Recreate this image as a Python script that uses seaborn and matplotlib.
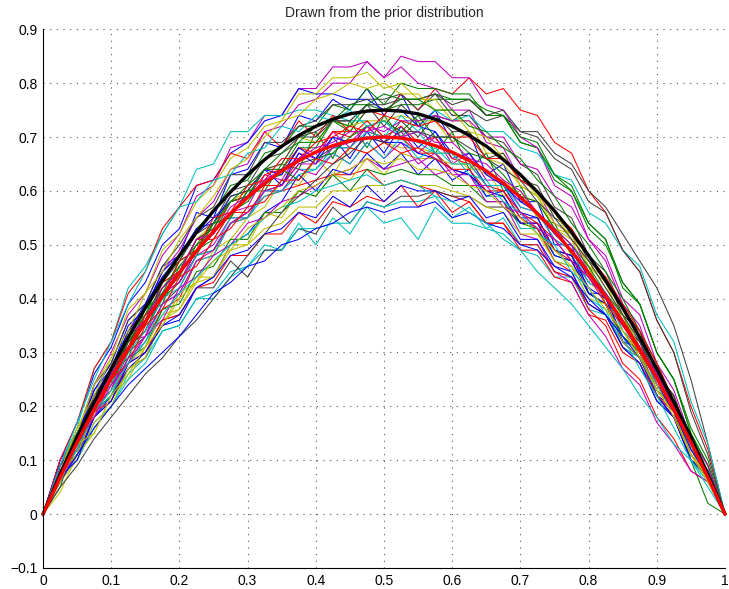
import numpy as np
import pandas as pd
import matplotlib
matplotlib.use("Agg")
import matplotlib.pyplot as plt
import seaborn as sns

# Prior sample functions on a 41-point grid over [0, 1], values in hundredths
samples = [
    [0,10,15,23,28,36,39,46,48,56,55,63,64,69,68,74,73,77,75,79,74,78,72,75,69,71,63,65,58,58,50,50,41,41,32,31,22,20,10,8,0],
    [0,5,14,19,26,29,37,39,46,48,54,55,60,60,65,64,71,66,73,68,74,70,73,67,71,64,67,60,61,55,54,48,46,39,37,30,27,19,15,7,0],
    [0,8,11,19,22,28,32,38,40,47,48,54,55,61,61,66,67,71,71,75,74,78,75,79,78,81,78,79,75,74,69,67,60,56,49,45,36,30,20,12,0],
    [0,7,10,16,20,26,29,34,35,40,41,45,46,49,49,54,50,55,52,57,54,55,51,57,54,54,53,52,49,48,44,44,38,37,32,29,23,20,12,8,0],
    [0,9,14,24,30,37,41,48,52,59,61,68,69,74,74,79,79,83,83,84,81,83,80,79,75,75,69,68,62,60,54,52,45,41,34,30,22,18,10,7,0],
    [0,4,11,15,22,25,31,35,41,43,49,51,55,57,62,61,66,63,68,67,69,68,68,67,67,64,64,59,60,55,53,48,46,39,36,29,26,19,15,6,0],
    [0,8,12,19,23,30,33,39,42,48,49,54,56,60,61,65,66,68,68,72,69,73,70,74,73,75,73,74,71,71,67,65,60,57,52,47,42,35,25,13,0],
    [0,10,17,26,31,39,43,50,53,61,62,67,69,73,74,79,78,78,77,77,75,75,72,71,67,66,61,61,56,55,49,48,41,39,32,29,22,18,11,7,0],
    [0,7,11,20,24,31,34,40,43,49,51,56,58,62,63,68,68,73,71,75,75,76,76,77,77,77,74,74,69,68,63,60,54,51,42,39,30,25,15,9,0],
    [0,8,13,21,25,32,36,41,45,51,51,56,56,59,60,61,62,63,63,64,61,62,61,60,59,58,54,54,49,49,44,43,37,36,30,28,21,18,11,7,0],
    [0,9,16,27,32,42,46,52,57,64,65,71,71,74,74,75,75,74,73,73,70,70,69,67,64,63,59,59,53,53,47,46,40,38,31,28,21,18,10,7,0],
    [0,7,12,20,23,32,33,41,43,49,52,56,57,63,62,67,66,71,68,72,69,71,67,70,65,67,62,62,57,56,51,49,44,41,35,32,24,20,12,8,0],
    [0,8,13,21,25,33,35,43,45,51,54,58,60,64,65,70,69,73,72,73,73,74,73,73,69,71,66,65,61,59,54,52,46,43,36,33,25,21,13,8,0],
    [0,7,11,18,21,27,29,36,37,42,42,47,44,49,49,53,52,57,54,58,57,59,59,60,59,59,57,57,54,54,49,48,43,41,35,32,25,21,13,8,0],
    [0,7,11,18,22,27,30,35,36,42,44,50,52,56,58,63,60,64,63,67,64,67,63,66,62,64,59,60,55,55,49,48,42,40,33,30,23,20,12,8,0],
    [0,8,13,22,26,34,37,44,47,53,56,61,62,67,68,72,72,76,75,79,76,80,79,79,78,78,74,74,69,68,62,60,53,50,43,39,30,25,16,10,0],
    [0,10,17,27,32,41,45,53,57,61,62,67,66,71,68,73,70,74,71,71,70,70,67,67,64,63,60,59,54,54,49,47,41,39,32,29,22,18,10,7,0],
    [0,7,10,17,20,25,28,34,35,40,40,44,46,50,49,53,53,54,54,58,57,58,58,59,55,57,53,55,50,50,45,44,39,37,31,29,22,19,11,8,0],
    [0,8,13,22,26,34,38,45,49,55,58,64,65,71,72,76,77,80,80,84,81,85,84,84,81,81,76,75,70,68,61,59,51,47,39,35,26,22,13,8,0],
    [0,6,10,17,20,27,29,36,38,43,44,50,50,56,55,60,59,63,62,66,63,67,66,66,65,65,63,62,59,58,53,52,46,44,37,34,26,22,14,9,0],
    [0,9,15,24,28,36,39,46,50,55,57,63,63,69,69,72,73,76,76,77,77,78,75,78,74,74,70,69,65,63,57,55,48,45,38,34,26,22,13,8,0],
    [0,9,15,22,27,34,39,44,48,52,55,58,59,64,61,67,65,70,66,71,67,72,68,71,66,67,63,61,58,56,52,49,44,40,35,31,24,20,12,8,0],
    [0,7,12,19,22,29,31,38,39,45,46,51,51,56,56,60,59,63,60,64,63,64,63,63,61,61,58,58,54,53,48,47,41,39,33,30,23,19,10,2,0],
    [0,8,13,21,25,33,36,43,45,51,53,58,59,63,64,68,67,71,70,73,70,72,69,70,66,65,61,60,55,53,47,45,38,35,28,25,18,14,8,6,0],
    [0,7,11,19,22,29,32,39,41,47,48,54,55,59,60,64,64,68,68,71,70,74,71,75,73,74,71,71,68,67,63,62,56,54,49,46,37,32,21,13,0],
    [0,9,12,20,23,31,34,41,43,48,50,55,55,60,60,64,63,67,65,69,66,69,65,67,63,63,58,58,52,51,45,43,37,33,27,24,17,13,8,6,0],
    [0,9,15,24,29,38,41,49,52,58,61,66,68,72,73,78,78,81,81,82,79,80,77,77,73,73,67,67,61,59,53,51,44,41,34,30,23,19,11,7,0],
    [0,8,14,22,26,32,36,43,47,52,54,60,61,66,67,70,71,73,73,76,72,76,73,74,71,71,66,67,62,61,55,53,47,44,37,34,26,22,13,8,0],
    [0,9,14,23,27,35,38,45,48,53,54,59,60,64,63,68,66,70,69,70,69,69,67,66,64,63,60,59,54,54,48,47,41,39,32,29,22,18,10,7,0],
    [0,7,12,20,24,31,34,41,44,50,52,58,59,64,64,69,69,73,72,76,75,77,77,78,77,77,75,74,70,69,63,61,54,51,43,39,30,25,15,9,0],
    [0,8,12,19,21,28,30,36,37,42,43,48,48,52,52,56,54,58,57,59,58,61,57,60,56,58,54,54,50,50,45,44,39,37,31,28,22,19,11,7,0],
    [0,8,12,20,24,30,34,40,42,48,49,55,55,60,60,63,64,67,65,69,66,70,66,68,65,65,61,61,57,56,51,49,43,41,34,31,24,20,12,8,0],
    [0,7,11,19,23,29,33,39,41,47,49,54,56,60,61,65,65,68,69,72,71,73,73,74,73,73,70,70,65,64,59,57,51,48,40,37,28,23,14,9,0],
    [0,8,11,19,23,28,31,37,38,44,44,49,50,53,54,57,57,60,60,61,61,62,61,61,60,59,57,56,52,52,47,46,40,39,32,29,23,19,11,7,0],
    [0,8,13,21,25,32,35,42,45,51,53,59,60,64,65,70,70,73,73,76,76,77,77,78,76,77,74,75,71,70,66,64,58,56,49,45,36,30,19,11,0],
    [0,7,10,18,21,28,30,35,37,42,44,48,49,52,53,56,55,59,57,61,58,61,60,60,58,59,55,56,51,51,46,45,39,37,31,28,21,18,10,7,0],
    [0,8,15,20,27,31,38,41,47,49,54,55,60,61,64,62,66,67,70,72,73,71,74,70,70,67,66,63,59,58,53,50,46,41,37,31,26,19,13,7,0],
    [0,6,14,18,25,28,35,38,44,46,51,53,57,58,62,62,66,65,68,67,69,67,68,66,64,64,60,60,56,54,51,47,44,39,35,30,25,19,13,7,0],
    [0,9,17,25,32,39,45,52,57,58,62,63,67,68,72,71,74,73,75,72,73,70,71,67,67,63,62,58,56,52,50,45,42,37,33,27,22,16,10,6,0],
    [0,7,13,18,24,28,33,36,42,44,48,50,54,55,58,59,61,63,64,66,64,65,66,63,64,61,61,57,56,53,51,47,44,40,36,31,26,20,13,7,0],
    [0,8,16,22,29,34,41,45,51,55,59,64,66,70,73,74,77,78,80,79,80,78,78,75,75,71,70,66,63,59,56,51,47,42,37,31,25,19,12,6,0],
    [0,5,9,14,18,22,26,29,33,36,40,44,48,52,56,59,62,65,67,70,69,71,71,70,70,68,66,64,62,58,55,51,47,42,37,32,26,20,13,7,0],
    [0,6,11,16,20,24,27,30,33,37,41,43,46,47,50,51,53,54,56,57,56,57,57,58,55,56,54,53,50,49,46,44,40,37,33,29,24,19,12,7,0],
    [0,7,14,21,26,32,37,42,46,50,54,58,61,64,67,69,72,73,76,76,78,77,77,75,75,72,71,68,66,62,59,54,50,45,40,34,28,21,14,7,0],
    [0,8,14,21,27,31,37,40,47,49,55,56,61,62,66,66,69,70,72,71,74,73,72,73,70,70,66,66,62,60,56,53,48,44,39,34,28,21,14,7,0],
    [0,7,12,19,23,28,32,37,41,44,47,50,52,55,57,58,60,61,62,63,61,62,61,59,58,56,54,51,49,45,42,39,35,31,27,22,18,13,10,5,0],
    [0,8,14,20,26,33,36,42,45,51,52,57,59,62,64,66,68,69,71,71,72,70,71,69,69,66,65,62,60,56,53,50,45,41,36,31,26,20,13,7,0],
    [0,6,13,15,22,26,31,35,40,43,47,49,53,55,57,60,61,63,64,66,65,66,64,64,63,61,60,57,55,52,49,46,42,38,34,29,24,18,11,6,0],
]

# Prior mean (black) and mean of the drawn samples (red), hundredths
prior_mean = [0,7.3,14.3,20.8,27,32.8,38.3,43.3,48,52.3,56.3,59.8,63,65.8,68.3,70.3,72,73.3,74.3,74.8,75,
              74.8,74.3,73.3,72,70.3,68.3,65.8,63,59.8,56.3,52.3,48,43.3,38.3,32.8,27,20.8,14.3,7.3,0]
sample_mean = [0,6.8,13.3,19.4,25.2,30.6,35.7,40.4,44.8,48.8,52.5,55.8,58.8,61.4,63.7,65.6,67.2,68.4,69.3,69.8,70,
               69.8,69.3,68.4,67.2,65.6,63.7,61.4,58.8,55.8,52.5,48.8,44.8,40.4,35.7,30.6,25.2,19.4,13.3,6.8,0]

x_ticks = [0, 0.1, 0.2, 0.3, 0.4, 0.5, 0.6, 0.7, 0.8, 0.9, 1.0]
x_labels = ["0", "0.1", "0.2", "0.3", "0.4", "0.5", "0.6", "0.7", "0.8", "0.9", "1"]
y_ticks = [-0.1, 0, 0.1, 0.2, 0.3, 0.4, 0.5, 0.6, 0.7, 0.8, 0.9]
y_labels = ["\u22120.1", "0", "0.1", "0.2", "0.3", "0.4", "0.5", "0.6", "0.7", "0.8", "0.9"]

line_colors = [(0, 0, 1), (0, 0.5, 0), (1, 0, 0), (0, 0.75, 0.75),
               (0.75, 0, 0.75), (0.75, 0.75, 0), (0.25, 0.25, 0.25)]

sns.set_style("white")
plt.rcParams["font.family"] = ["Liberation Sans", "DejaVu Sans"]
plt.rcParams["axes.unicode_minus"] = True

rows = []
for k, s in enumerate(samples):
    xs = np.linspace(0, 1, len(s))
    for xv, yv in zip(xs, s):
        rows.append({"x": xv, "y": yv / 100.0, "curve": k})
df = pd.DataFrame(rows)
palette = [line_colors[k % len(line_colors)] for k in range(len(samples))]

fig = plt.figure(figsize=(7.29, 5.89), dpi=100)
ax = fig.add_axes([0.059, 0.0357, 0.9355, 0.9146])

sns.lineplot(data=df, x="x", y="y", hue="curve", palette=palette, units="curve",
             estimator=None, legend=False, linewidth=0.75, ax=ax, clip_on=False)

xm = np.linspace(0, 1, len(prior_mean))
sns.lineplot(x=xm, y=np.array(prior_mean) / 100.0, color="black", linewidth=2.4, ax=ax,
             clip_on=False)
xr = np.linspace(0, 1, len(sample_mean))
sns.lineplot(x=xr, y=np.array(sample_mean) / 100.0, color="red", linewidth=2.4, ax=ax,
             clip_on=False)

ax.set_xlim(0, 1)
ax.set_ylim(-0.1, 0.9)
ax.set_xticks(x_ticks)
ax.set_xticklabels(x_labels)
ax.set_yticks(y_ticks)
ax.set_yticklabels(y_labels)
ax.set_xlabel("")
ax.set_ylabel("")
ax.tick_params(direction="in", length=5, width=0.8, labelsize=10, colors="black", pad=4)
ax.grid(True, linestyle=(0, (1, 5)), color="#555555", linewidth=0.8)
ax.set_axisbelow(True)
for side in ["top", "right"]:
    ax.spines[side].set_visible(False)
for side in ["left", "bottom"]:
    ax.spines[side].set_color("black")
    ax.spines[side].set_linewidth(0.8)
ax.set_title("Drawn from the prior distribution", fontsize=10, pad=9)

fig.savefig("out.png", dpi=100)
